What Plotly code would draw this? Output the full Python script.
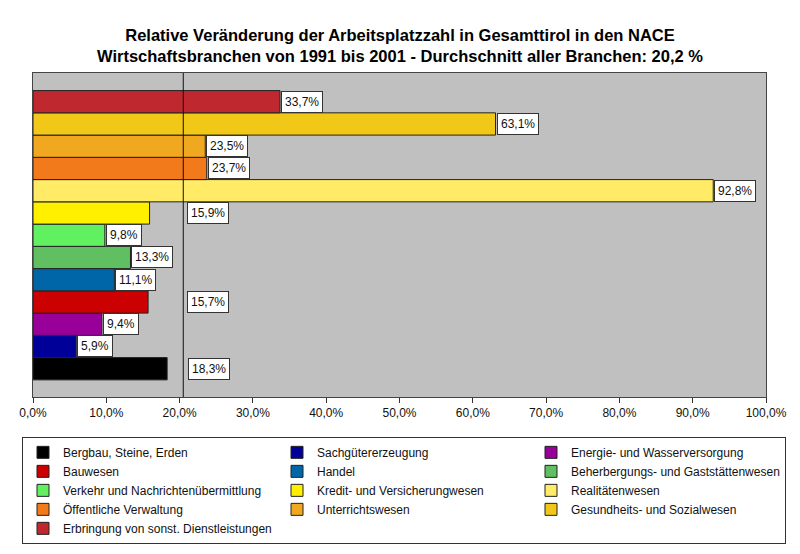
import plotly.graph_objects as go

categories = [
    "Bergbau, Steine, Erden",
    "Sachgütererzeugung",
    "Energie- und Wasserversorgung",
    "Bauwesen",
    "Handel",
    "Beherbergungs- und Gaststättenwesen",
    "Verkehr und Nachrichtenübermittlung",
    "Kredit- und Versicherungwesen",
    "Realitätenwesen",
    "Öffentliche Verwaltung",
    "Unterrichtswesen",
    "Gesundheits- und Sozialwesen",
    "Erbringung von sonst. Dienstleistungen",
]
values = [18.3, 5.9, 9.4, 15.7, 11.1, 13.3, 9.8, 15.9, 92.8, 23.7, 23.5, 63.1, 33.7]
# x where each value label box starts (some labels were moved right in the original)
label_pos = [21.0, 5.9, 9.4, 20.9, 11.1, 13.3, 9.8, 20.9, 92.8, 23.7, 23.5, 63.1, 33.7]
colors = [
    "#000000", "#000099", "#990099", "#CC0000", "#0066A8", "#60BF60", "#60F060",
    "#FFF000", "#FFEB66", "#F27A1A", "#F0A820", "#F2C818", "#C02830",
]
avg_line = 20.5
x_ticks = [0, 10, 20, 30, 40, 50, 60, 70, 80, 90, 100]
tick_text = [f"{v:.1f}%".replace(".", ",") for v in x_ticks]

fig = go.Figure()
for i, (name, v, c) in enumerate(zip(categories, values, colors)):
    fig.add_trace(go.Bar(
        x=[v], y=[i], orientation="h", name=name, width=1,
        marker=dict(color=c, line=dict(color="#222222", width=1)),
        hoverinfo="skip",
    ))
    fig.add_annotation(
        x=label_pos[i], y=i, xref="x", yref="y",
        text=f"{v:.1f}%".replace(".", ","),
        showarrow=False, xanchor="left", yanchor="middle", xshift=1,
        bgcolor="white", bordercolor="#333333", borderwidth=1, borderpad=3,
        font=dict(family="Liberation Sans, Arial", size=12, color="#111111"),
    )

fig.add_shape(type="line", x0=avg_line, x1=avg_line, y0=0, y1=1,
              xref="x", yref="paper", line=dict(color="#111111", width=1))

# the page adds an 8px body margin (left/top), so the figure is 8px smaller than the window
fig.update_layout(
    width=792, height=546,
    margin=dict(l=25, r=34, t=65, b=157, autoexpand=False),
    paper_bgcolor="white", plot_bgcolor="#C0C0C0",
    barmode="overlay",
    title=dict(
        text="<b>Relative Veränderung der Arbeitsplatzzahl in Gesamttirol in den NACE<br>"
             "Wirtschaftsbranchen von 1991 bis 2001 - Durchschnitt aller Branchen: 20,2 %</b>",
        x=(400 - 8) / 792, xanchor="center", y=1 - 33 / 546, yanchor="middle",
        font=dict(family="Liberation Sans, Arial", size=16.5, color="#000000"),
    ),
    font=dict(family="Liberation Sans, Arial", size=12, color="#000000"),
    xaxis=dict(
        range=[0, 100], tickvals=x_ticks, ticktext=tick_text,
        ticks="outside", ticklen=5, tickcolor="#333333",
        showline=True, linecolor="#444444", linewidth=1, mirror=True,
        showgrid=False, zeroline=False, fixedrange=True,
        tickfont=dict(size=12, color="#111111"),
    ),
    yaxis=dict(
        range=[-1.27, 13.29], showticklabels=False, ticks="",
        showline=True, linecolor="#444444", linewidth=1, mirror=True,
        showgrid=False, zeroline=False, fixedrange=True,
    ),
    legend=dict(
        orientation="h", x=1 + 20 / 733, xanchor="right", y=-0.123, yanchor="top",
        entrywidth=209, entrywidthmode="pixels",
        bordercolor="#333333", borderwidth=1, bgcolor="white",
        font=dict(size=12, color="#111111"), traceorder="normal",
        itemwidth=30,
    ),
    showlegend=True,
)

fig.write_html("out.html")
